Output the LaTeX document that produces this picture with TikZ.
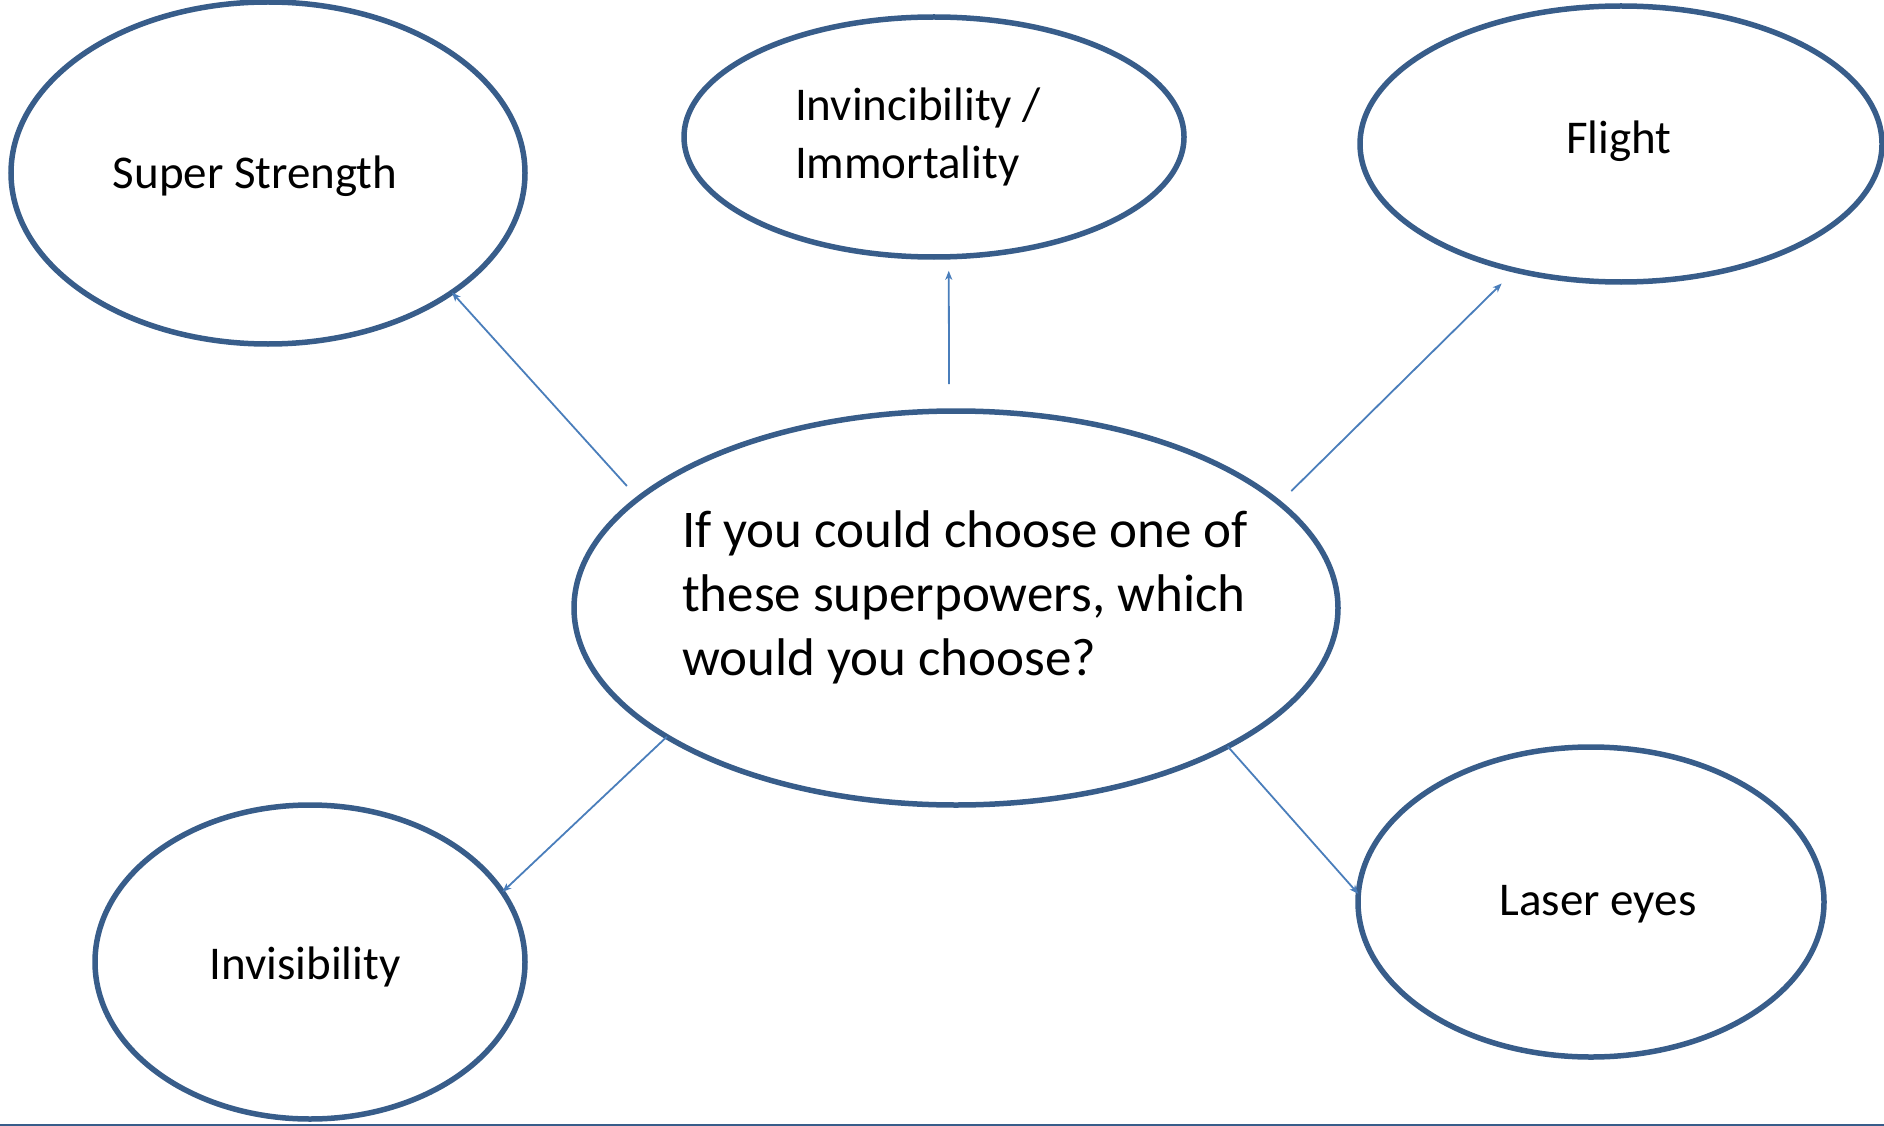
\documentclass[tikz,border=0pt]{standalone}
\usepackage{fontspec}
\setmainfont{Carlito}
\usetikzlibrary{shapes.geometric}
\usetikzlibrary{arrows.meta}

\definecolor{ringblue}{RGB}{56,93,138}
\definecolor{arrowblue}{RGB}{74,126,187}

\tikzset{
  power/.style={ellipse, draw=ringblue, line width=5.5pt, inner sep=0pt, outer sep=0pt},
  pointer/.style={draw=arrowblue, line width=1.8pt, -{Stealth[length=9pt,width=7pt,inset=2.5pt]}},
  smalltext/.style={font=\fontsize{47}{58}\selectfont, align=left, inner sep=0pt},
}

\begin{document}
\begin{tikzpicture}[x=1pt, y=-1pt]
\useasboundingbox (0,0) rectangle (1884,1126);
\begin{scope}

  % question in the middle
  \node[power, minimum width=764pt, minimum height=394pt] (question) at (956,608) {};
  \node[align=left, inner sep=0pt, font=\fontsize{53}{64}\selectfont]
       (question text) at (965,597)
       {If you could choose one of\\these superpowers, which\\would you choose?};

  % the five superpowers
  \node[power, minimum width=514pt, minimum height=342pt] (strength) at (268,173) {};
  \node[smalltext] (strength text) at (255,176) {Super Strength};

  \node[power, minimum width=500pt, minimum height=240pt] (invincible) at (934,137) {};
  \node[smalltext] (invincible text) at (918,137) {Invincibility /\\Immortality};

  \node[power, minimum width=522pt, minimum height=276pt] (flight) at (1621,144) {};
  \node[smalltext] (flight text) at (1619,141) {Flight};

  \node[power, minimum width=430pt, minimum height=314pt] (invisible) at (310,962) {};
  \node[smalltext] (invisible text) at (305,967) {Invisibility};

  \node[power, minimum width=466pt, minimum height=310pt] (laser) at (1591,902) {};
  \node[smalltext] (laser text) at (1598,904) {Laser eyes};

  % arrows out of the question
  \draw[pointer, shorten <=17pt] (question.161.5) -- (strength.-33);
  \draw[pointer, shorten <=27pt, shorten >=14pt] (question.92.3) -- (invincible.-83.3);
  \draw[pointer, shorten <=17pt, shorten >=19pt] (question.18.7) -- (flight.-130.7);
  \draw[pointer] (question.-156) -- (invisible.20);
  \draw[pointer] (question.-27.6) -- (laser.178);

  % rule along the bottom
  \draw[ringblue, line width=2pt] (0,1125) -- (1884,1125);

\end{scope}
\end{tikzpicture}
\end{document}
